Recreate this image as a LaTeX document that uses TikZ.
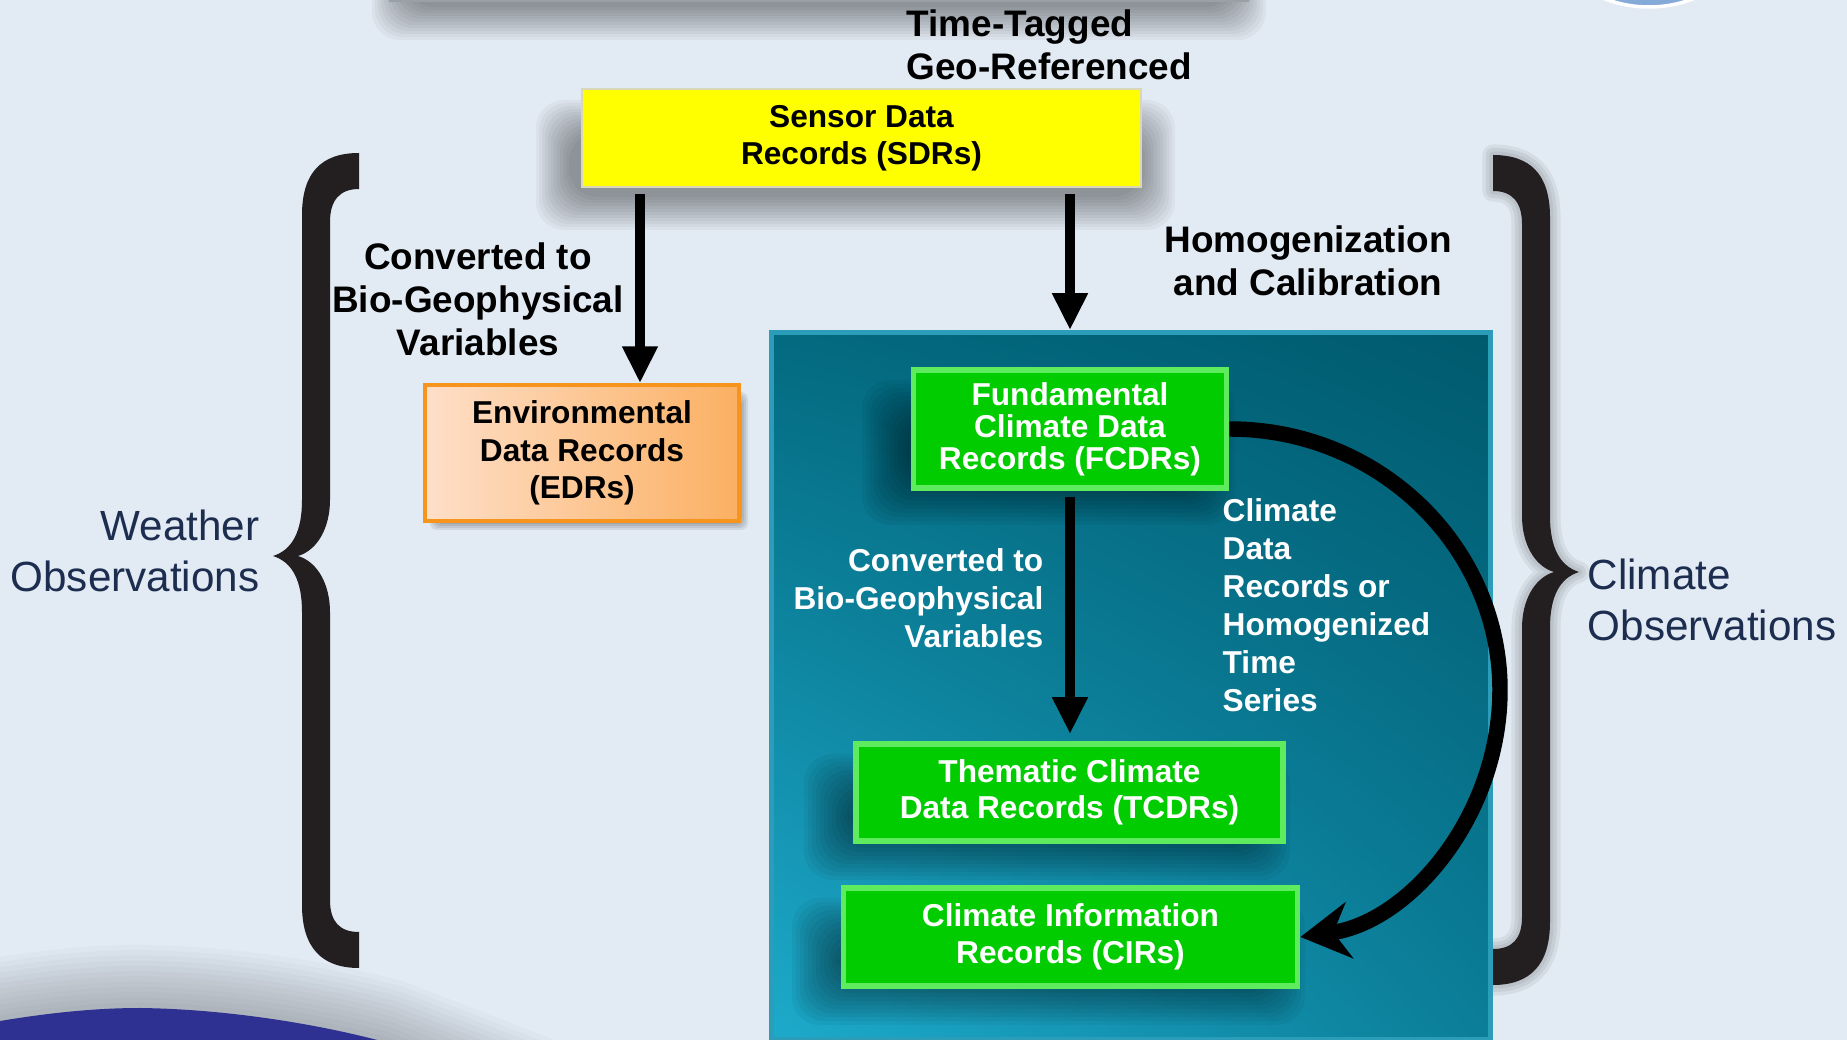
\documentclass[tikz,border=0pt]{standalone}
\usepackage{fontspec}
\setmainfont{Liberation Sans}
\usetikzlibrary{arrows.meta,shadings,calc}

\definecolor{bgblue}{HTML}{E2EAF3}
\definecolor{navytext}{HTML}{1C2D4F}
\definecolor{sdryellow}{HTML}{FFFF00}
\definecolor{sdredge}{HTML}{D8D8B8}
\definecolor{edrlight}{HTML}{FEDFC9}
\definecolor{edrmid}{HTML}{FDD2AE}
\definecolor{edrdark}{HTML}{FBB062}
\definecolor{edrorange}{HTML}{F7941D}
\definecolor{recgreen}{HTML}{00CC00}
\definecolor{recbevel}{HTML}{5EEB5E}
\definecolor{tealul}{HTML}{036A80}
\definecolor{tealur}{HTML}{005A6E}
\definecolor{tealll}{HTML}{1DAACB}
\definecolor{teallr}{HTML}{0B7E99}
\definecolor{tealedge}{HTML}{2C9DB8}
\definecolor{bracegray}{HTML}{231F20}
\definecolor{wavenavy}{HTML}{2E3192}
\definecolor{ballblue}{HTML}{86AAD8}
\definecolor{topgray}{HTML}{9AA0A8}

\begin{document}
\begin{tikzpicture}[x=0.01cm, y=-0.01cm,
  lbl/.style={inner sep=0pt, font=\bfseries\fontsize{10.5}{12.2}\selectfont},
  inlbl/.style={inner sep=0pt, text=white, font=\bfseries\fontsize{9}{10.8}\selectfont},
  obs/.style={inner sep=0pt, text=navytext, font=\fontsize{12}{14.4}\selectfont},
  rec/.style={inner sep=0pt, align=center, font=\bfseries\fontsize{9}{10.4}\selectfont},
  greenrec/.style={rec, fill=recgreen, draw=recbevel, line width=1.6pt, text=white},
  softshade/.style={black, opacity=#1, rounded corners=8pt},
  halo/.style={preaction={draw=black, opacity=#1, line width=2pt, line join=round},
    preaction={draw=black, opacity=#1, line width=4pt, line join=round},
    preaction={draw=black, opacity=#1, line width=6pt, line join=round}},
  conn/.style={line width=2.8pt, -{Triangle[width=9.5pt,length=10.5pt]}},
  loopconn/.style={line width=4.4pt, -{Stealth[width=16pt,length=14pt]}},
  obsbrace/.style={fill=bracegray}]
 \useasboundingbox (0,0) rectangle (1847,1040);
 \fill[bgblue] (0,0) rectangle (1847,1040);

 % bits of the slide around the chart
 \foreach \s in {0,...,11}
   \fill[softshade=0.035] (372+3*\s,-30) rectangle (1266-3*\s,40-3*\s);
 \fill[topgray] (389,-10) rectangle (1249,2);
 \fill[ballblue, draw=white, line width=1pt] (1649,-116) circle (123);
 \foreach \w in {3,6,...,36}
   \draw[black, opacity=0.02, line width=\w pt, line join=round]
     (-120,1038) -- (0,1021) .. controls (60,1011) and (105,1008) .. (140,1008)
     .. controls (220,1009) and (310,1022) .. (385,1042) -- (560,1110);
 \fill[wavenavy]
   (0,1021) .. controls (60,1011) and (105,1008) .. (140,1008)
   .. controls (220,1009) and (310,1022) .. (385,1042) -- (0,1042) -- cycle;

 % braces
 \fill[obsbrace] (359,153) .. controls (322,153) and (302,172) .. (302,215)
   -- (302,500) .. controls (302,532) and (292,550) .. (273,556)
   .. controls (292,562) and (302,580) .. (302,612)
   -- (302,905) .. controls (302,948) and (322,968) .. (359,968)
   -- (359,932) .. controls (340,932) and (330,922) .. (330,900)
   -- (330,612) .. controls (330,585) and (318,562) .. (298,556)
   .. controls (318,550) and (330,527) .. (330,500)
   -- (330,222) .. controls (330,200) and (340,189) .. (359,189) -- cycle;
 \fill[obsbrace, halo=0.06]
   (1493,155) .. controls (1530,155) and (1550,174) .. (1550,217)
   -- (1550,516) .. controls (1550,548) and (1560,566) .. (1579,572)
   .. controls (1560,578) and (1550,596) .. (1550,628)
   -- (1550,922) .. controls (1550,965) and (1530,985) .. (1493,985)
   -- (1493,949) .. controls (1512,949) and (1522,939) .. (1522,917)
   -- (1522,628) .. controls (1522,601) and (1534,578) .. (1554,572)
   .. controls (1534,566) and (1522,543) .. (1522,516)
   -- (1522,224) .. controls (1522,202) and (1512,191) .. (1493,191) -- cycle;

 % climate panel
 \node[minimum width=7.18cm, minimum height=7.06cm, inner sep=0pt, draw=tealedge, line width=1.5pt,
   upper left=tealul, upper right=tealur, lower left=tealll, lower right=teallr] (teal) at (1131,686) {};

 % drop shadows under the record boxes
 \foreach \s in {0,...,11} {
   \fill[softshade=0.035] (536+3*\s,100+3*\s) rectangle (1175-3*\s,230-3*\s);
   \fill[softshade=0.045] (862+4*\s,380+4*\s) rectangle (1235-4*\s,525-4*\s);
   \fill[softshade=0.045] (804+4*\s,754+4*\s) rectangle (1290-4*\s,880-4*\s);
   \fill[softshade=0.045] (792+4*\s,898+4*\s) rectangle (1305-4*\s,1025-4*\s);
 }
 \foreach \s in {0,...,3}
   \fill[softshade=0.08, rounded corners=2pt] (430+2*\s,392+2*\s) rectangle (748-2*\s,530-2*\s);

 % record boxes
 \node[rec, minimum width=5.59cm, minimum height=0.98cm, fill=sdryellow, draw=sdredge, line width=0.6pt]
   (sdr) at (861.5,138) {Sensor Data\\Records (SDRs)};
 \node[rec, minimum width=3.14cm, minimum height=1.36cm, left color=edrlight, middle color=edrmid, right color=edrdark,
   draw=edrorange, line width=1pt, font=\bfseries\fontsize{9}{10.7}\selectfont]
   (edr) at (582,453) {Environmental\\Data Records\\(EDRs)};
 \node[greenrec, minimum width=3.13cm, minimum height=1.18cm, font=\bfseries\fontsize{9}{9.1}\selectfont]
   (fcdr) at (1070,429) {Fundamental\\Climate Data\\Records (FCDRs)};
 \node[greenrec, minimum width=4.27cm, minimum height=0.97cm] (tcdr) at (1069.5,792.5) {Thematic Climate\\Data Records (TCDRs)};
 \node[greenrec, minimum width=4.54cm, minimum height=0.98cm] (cir) at (1070.5,937) {Climate Information\\Records (CIRs)};

 % connectors
 \coordinate (edrin) at ($(edr.north)+(58,0)$);
 \draw[conn, shorten <=1.7pt] (sdr.south -| edrin) -- (edrin);
 \draw[conn, shorten <=1.7pt] (sdr.south -| fcdr.north) -- (teal.north -| fcdr.north);
 \draw[conn, shorten <=1.7pt, shorten >=2pt] (fcdr.south) -- (tcdr.north -| fcdr.south);
 \coordinate (swing) at (1500,690);
 \draw[loopconn] (fcdr.east) .. controls +(151,0) and (1500,548) .. (swing)
   .. controls (1500,815) and (1410,922) .. (cir.east);

 % labels
 \node[lbl, anchor=west, align=left] (stamp) at (906,45) {Time-Tagged\\Geo-Referenced};
 \node[lbl, align=center] (conv) at (478,299) {Converted to\\Bio-Geophysical\\Variables};
 \node[lbl, align=center] (homog) at (1308,261) {Homogenization\\and Calibration};
 \node[inlbl, anchor=east, align=right] (convin) at (1044,598) {Converted to\\Bio-Geophysical\\Variables};
 \node[inlbl, anchor=west, align=left] (cdrts) at (1222,605) {Climate\\Data\\Records or\\Homogenized\\Time\\Series};
 \node[obs, anchor=east, align=right] (weather) at (260,551) {Weather\\Observations};
 \node[obs, anchor=west, align=left] (climate) at (1587,600) {Climate\\Observations};
\end{tikzpicture}
\end{document}
